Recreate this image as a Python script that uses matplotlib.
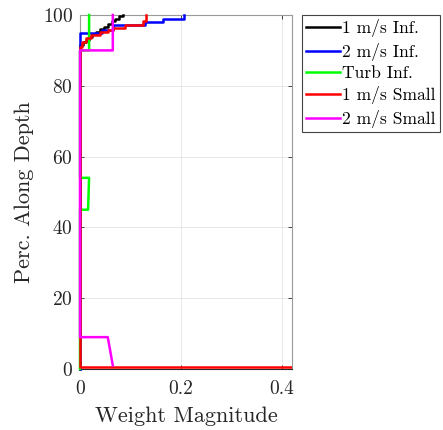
import matplotlib
matplotlib.use("Agg")
import matplotlib.pyplot as plt
from matplotlib.transforms import Bbox, TransformedBbox

plt.rcParams['font.family'] = 'serif'
plt.rcParams['font.serif'] = ['cmr10']
plt.rcParams['mathtext.fontset'] = 'cm'
plt.rcParams['axes.formatter.use_mathtext'] = True
plt.rcParams['path.simplify'] = False

labels = ["1 m/s Inf.", "2 m/s Inf.", "Turb Inf.", "1 m/s Small", "2 m/s Small"]
colors = ["#000000", "#0000ff", "#00ff00", "#ff0000", "#ff00ff"]

black_x = [0, 0, 0.005, 0.005, 0.011, 0.011, 0.017, 0.017, 0.024, 0.024, 0.032, 0.032,
           0.040, 0.040, 0.048, 0.048, 0.056, 0.056, 0.063, 0.063, 0.070, 0.070,
           0.078, 0.078, 0.085, 0.085]
black_y = [0, 91.5, 91.5, 92.3, 92.3, 93.0, 93.0, 93.8, 93.8, 94.5, 94.5, 95.2,
           95.2, 96.0, 96.0, 96.7, 96.7, 97.5, 97.5, 98.2, 98.2, 99.0,
           99.0, 99.7, 99.7, 100]

blue_x = [0, 0, 0.043, 0.043, 0.066, 0.066, 0.129, 0.129, 0.165, 0.165, 0.207, 0.207]
blue_y = [0, 95.0, 95.0, 95.8, 95.8, 97.3, 97.3, 98.1, 98.1, 99.0, 99.0, 100]

green_x = [0, 0, 0.016, 0.018, 0, 0, 0.018, 0.018]
green_y = [0, 45, 45, 54, 54, 90, 90, 100]

red_x = [0.6, 0, 0, 0.004, 0.004, 0.012, 0.012, 0.022, 0.022, 0.040, 0.040, 0.055, 0.055,
         0.066, 0.066, 0.089, 0.089, 0.125, 0.125, 0.131, 0.131]
red_y = [0.7, 0.7, 91.0, 91.0, 92.5, 92.5, 93.5, 93.5, 94.3, 94.3, 95.2, 95.2, 95.8,
         95.8, 96.3, 96.3, 97.2, 97.2, 98.4, 98.4, 100]

mag_x = [0.065, 0.055, 0, 0, 0.065, 0.065]
mag_y = [1.0, 9.0, 9.0, 90.0, 90.0, 100]

series = [(black_x, black_y), (blue_x, blue_y), (green_x, green_y), (red_x, red_y), (mag_x, mag_y)]

xticks = [0, 0.2, 0.4]
xticklabels = ["0", "0.2", "0.4"]
yticks = [0, 20, 40, 60, 80, 100]

fig = plt.figure(figsize=(4.43, 4.30), dpi=100)
ax = fig.add_axes([80/443, 61/430, 212/443, 354/430])

clipbox = TransformedBbox(Bbox.from_extents(-0.03, -0.03, 1.0, 1.03), ax.transAxes)
for i, ((x, y), c, lab) in enumerate(zip(series, colors, labels)):
    ln, = ax.plot(x, y, color=c, lw=1.8, label=lab, zorder=3 + 0.1 * i)
    ln.set_clip_box(clipbox)

ax.set_xlim(0, 0.42)
ax.set_ylim(0, 100)
ax.set_xticks(xticks)
ax.set_xticklabels(xticklabels)
ax.set_yticks(yticks)
ax.grid(True, color="#e3e3e3", lw=0.6)
ax.set_axisbelow(True)
for s in ax.spines.values():
    s.set_color("#9a9a9a")
    s.set_linewidth(0.8)
ax.spines['bottom'].set_color("#262626")
ax.tick_params(direction='in', length=3, width=0.6, colors="#262626", labelsize=14,
               top=True, right=True, pad=5)
ax.tick_params(axis='x', pad=8)
ax.set_xlabel("Weight Magnitude", fontsize=16, color="#262626", labelpad=6)
ax.set_ylabel("Perc. Along Depth", fontsize=16, color="#262626", labelpad=6)

leg = fig.legend(loc="upper left", bbox_to_anchor=(302/443, 1 - 15/430), fontsize=12.6,
                 fancybox=False, framealpha=1, edgecolor="#444444", handlelength=1.9,
                 handletextpad=0.15, borderpad=0.25, labelspacing=0.3, borderaxespad=0)
leg.get_frame().set_linewidth(0.8)

fig.savefig("out.png", dpi=100)
